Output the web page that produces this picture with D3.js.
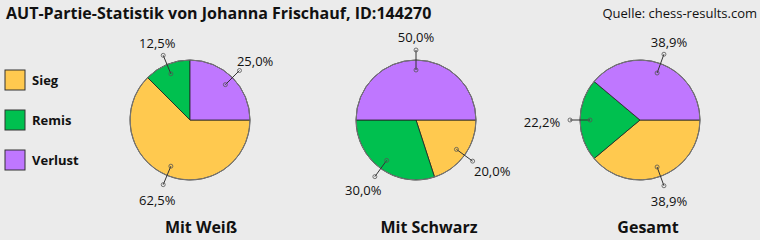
<!DOCTYPE html>
<html>
<head>
<meta charset="utf-8">
<script src="https://cdn.jsdelivr.net/npm/d3@7"></script>
<style>
  body { margin: 0; background: #ebebeb; }
  svg { display: block; font-family: "Open Sans", sans-serif; }
</style>
</head>
<body>
<div class="chart"></div>
<script>
  var title = "AUT-Partie-Statistik von Johanna Frischauf, ID:144270",
      source = "Quelle: chess-results.com";

  var categories = ["Sieg", "Remis", "Verlust"],
      panels = ["Mit Weiß", "Mit Schwarz", "Gesamt"];

  // games per panel
  var sieg = [5, 2, 7],
      remis = [1, 3, 4],
      verlust = [2, 5, 7];

  var colors = ["#ffc94f", "#00c04f", "#bf77ff"];

  var width = 760, height = 240,
      radius = 60,
      centers = [190, 416, 640],
      cy = 120;

  var svg = d3.select('.chart')
      .append("svg")
      .attr("width", width)
      .attr("height", height);

  svg.append("rect")
      .attr("width", width)
      .attr("height", height)
      .attr("fill", "#ebebeb");

  svg.append("text")
      .attr("x", 6)
      .attr("y", 19)
      .attr("font-size", 16)
      .attr("font-weight", "bold")
      .attr("fill", "#111")
      .text(title);

  svg.append("text")
      .attr("x", 757)
      .attr("y", 18)
      .attr("text-anchor", "end")
      .attr("font-size", 13)
      .attr("fill", "#111")
      .text(source);

  // legend
  var color = d3.scaleOrdinal().domain(categories).range(colors);
  var legendY = d3.scalePoint().domain(categories).range([80, 160]);

  var legend = svg.selectAll(".legend")
      .data(categories)
      .enter().append("g")
      .attr("class", "legend")
      .attr("transform", function(d) { return "translate(5," + legendY(d) + ")"; });

  legend.append("rect")
      .attr("y", -10)
      .attr("width", 20)
      .attr("height", 20)
      .attr("fill", function(d) { return color(d); })
      .attr("stroke", "#333")
      .attr("stroke-width", 1);

  legend.append("text")
      .attr("x", 27)
      .attr("dy", "0.35em")
      .attr("font-size", 13)
      .attr("font-weight", "bold")
      .attr("fill", "#111")
      .text(function(d) { return d; });

  var locale = d3.formatLocale({decimal: ",", thousands: ".", grouping: [3], currency: ["", "€"]});
  var pct = locale.format(".1%");

  var pie = d3.pie()
      .sort(null)
      .startAngle(Math.PI / 2)
      .endAngle(Math.PI / 2 + 2 * Math.PI)
      .value(function(d) { return d.value; });

  var arc = d3.arc().innerRadius(0).outerRadius(radius);

  panels.forEach(function(name, i) {
    var values = [sieg[i], remis[i], verlust[i]];
    var total = d3.sum(values);
    var rows = categories.map(function(c, j) { return {cat: c, value: values[j]}; });

    var g = svg.append("g")
        .attr("transform", "translate(" + centers[i] + "," + cy + ")");

    g.selectAll("path")
        .data(pie(rows))
        .enter().append("path")
        .attr("d", arc)
        .attr("fill", function(d) { return color(d.data.cat); })
        .attr("stroke", "#222")
        .attr("stroke-width", 0.8);

    g.append("circle")
        .attr("r", radius)
        .attr("fill", "none")
        .attr("stroke", "#777")
        .attr("stroke-width", 1);

    var labels = g.selectAll(".lbl")
        .data(pie(rows))
        .enter().append("g")
        .attr("class", "lbl");

    labels.each(function(d) {
      var a = (d.startAngle + d.endAngle) / 2,
          ux = Math.sin(a), uy = -Math.cos(a),
          sel = d3.select(this),
          x1 = ux * 50, y1 = uy * 50,
          x2 = ux * 70, y2 = uy * 70;

      sel.append("line")
          .attr("x1", x1).attr("y1", y1)
          .attr("x2", x2).attr("y2", y2)
          .attr("stroke", "#333")
          .attr("stroke-width", 1);

      sel.selectAll("circle")
          .data([[x1, y1], [x2, y2]])
          .enter().append("circle")
          .attr("cx", function(p) { return p[0]; })
          .attr("cy", function(p) { return p[1]; })
          .attr("r", 2)
          .attr("fill", "none")
          .attr("stroke", "#555")
          .attr("stroke-width", 0.8);

      sel.append("text")
          .attr("x", x2 + ux * Math.abs(ux) * 20 + ux * 8)
          .attr("y", y2 + 6.5 + 15 * uy)
          .attr("text-anchor", "middle")
          .attr("font-size", 13)
          .attr("fill", "#111")
          .text(pct(d.data.value / total));
    });

    svg.append("text")
        .attr("x", centers[i] + [11, 13, 8][i])
        .attr("y", 233)
        .attr("text-anchor", "middle")
        .attr("font-size", 16)
        .attr("font-weight", "bold")
        .attr("fill", "#111")
        .text(name);
  });
</script>
</body>
</html>
